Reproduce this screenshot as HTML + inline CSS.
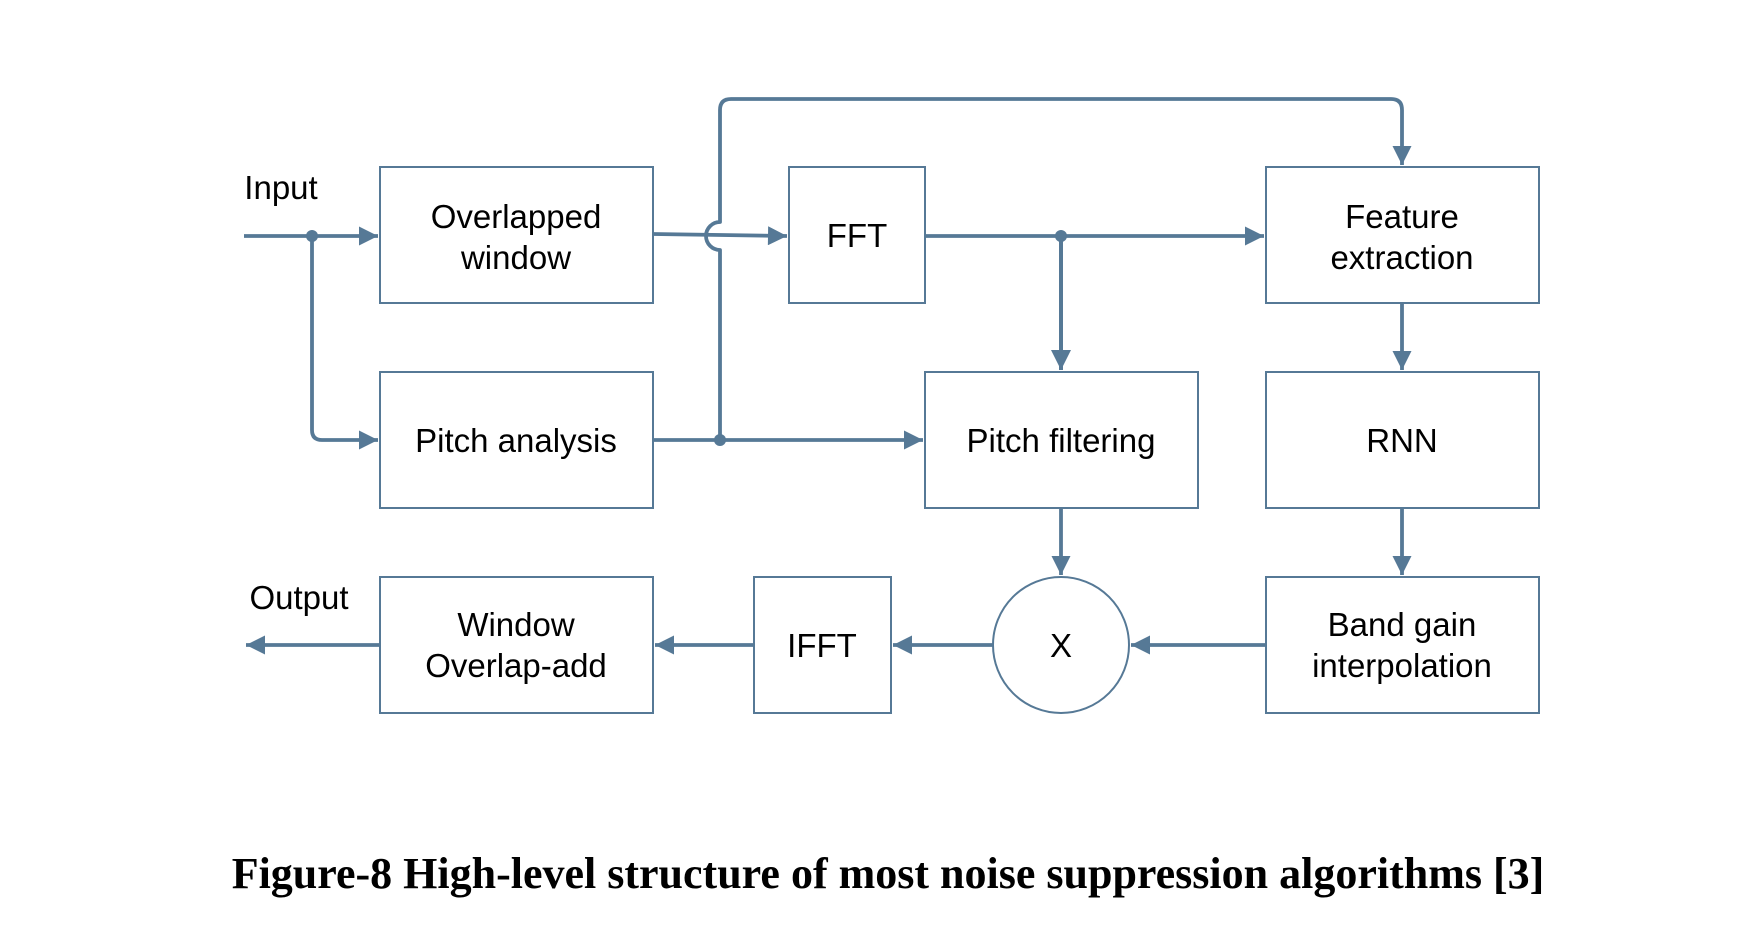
<!DOCTYPE html>
<html><head><style>
html,body{margin:0;padding:0;background:#fff;}
svg{display:block;}
</style></head><body>
<svg width="1762" height="940" viewBox="0 0 1762 940" xmlns="http://www.w3.org/2000/svg">
<defs>
<marker id="a" viewBox="0 0 10 10" refX="10" refY="5" markerWidth="6" markerHeight="5" orient="auto" markerUnits="strokeWidth">
<path d="M0,0 L10,5 L0,10 z" fill="#567996"/></marker>
<marker id="b" viewBox="0 0 10 10" refX="10" refY="5" markerWidth="8" markerHeight="5" orient="auto" markerUnits="strokeWidth">
<path d="M0,0 L10,5 L0,10 z" fill="#567996"/></marker>
</defs>
<g fill="none" stroke="#567996" stroke-width="2">
<rect x="380" y="167" width="273" height="136"/>
<rect x="380" y="372" width="273" height="136"/>
<rect x="789" y="167" width="136" height="136"/>
<rect x="1266" y="167" width="273" height="136"/>
<rect x="925" y="372" width="273" height="136"/>
<rect x="1266" y="372" width="273" height="136"/>
<rect x="380" y="577" width="273" height="136"/>
<rect x="754" y="577" width="137" height="136"/>
<rect x="1266" y="577" width="273" height="136"/>
<circle cx="1061" cy="645" r="68"/>
</g>
<g fill="none" stroke="#567996" stroke-width="3.8" stroke-linejoin="round">
<line x1="244" y1="236" x2="378" y2="236" marker-end="url(#a)"/>
<path d="M312,236 V430 Q312,440 322,440 H378" marker-end="url(#a)"/>
<path d="M653,234 L787,236" marker-end="url(#a)"/>
<path d="M653,440 H923" marker-end="url(#a)"/>
<path d="M720,440 V250 A13,13 0 0 1 720,222 V110 Q720,99 731,99 H1391 Q1402,99 1402,110 V165" marker-end="url(#a)"/>
<line x1="925" y1="236" x2="1264" y2="236" marker-end="url(#a)"/>
<line x1="1061" y1="236" x2="1061" y2="370" stroke-width="4" marker-end="url(#b)"/>
<line x1="1061" y1="508" x2="1061" y2="575" marker-end="url(#a)"/>
<line x1="1402" y1="303" x2="1402" y2="370" marker-end="url(#a)"/>
<line x1="1402" y1="508" x2="1402" y2="575" marker-end="url(#a)"/>
<line x1="1266" y1="645" x2="1131" y2="645" marker-end="url(#a)"/>
<line x1="993" y1="645" x2="893" y2="645" marker-end="url(#a)"/>
<line x1="754" y1="645" x2="655" y2="645" marker-end="url(#a)"/>
<line x1="380" y1="645" x2="246" y2="645" marker-end="url(#a)"/>
</g>
<g fill="#567996">
<circle cx="312" cy="236" r="6"/>
<circle cx="720" cy="440" r="6"/>
<circle cx="1061" cy="236" r="6"/>
</g>
<g font-family="Liberation Sans, sans-serif" font-size="33" fill="#000" text-anchor="middle">
<text x="516" y="228">Overlapped</text>
<text x="516" y="269">window</text>
<text x="516" y="452">Pitch analysis</text>
<text x="857" y="247">FFT</text>
<text x="1402" y="228">Feature</text>
<text x="1402" y="269">extraction</text>
<text x="1061" y="452">Pitch filtering</text>
<text x="1402" y="452">RNN</text>
<text x="516" y="636">Window</text>
<text x="516" y="677">Overlap-add</text>
<text x="822" y="657">IFFT</text>
<text x="1061" y="657">X</text>
<text x="1402" y="636">Band gain</text>
<text x="1402" y="677">interpolation</text>
<text x="281" y="199">Input</text>
<text x="299" y="609">Output</text>
</g>
<text x="888" y="888" text-anchor="middle" font-family="Liberation Serif, serif" font-weight="bold" font-size="44" fill="#000">Figure-8 High-level structure of most noise suppression algorithms [3]</text>
</svg>
</body></html>
